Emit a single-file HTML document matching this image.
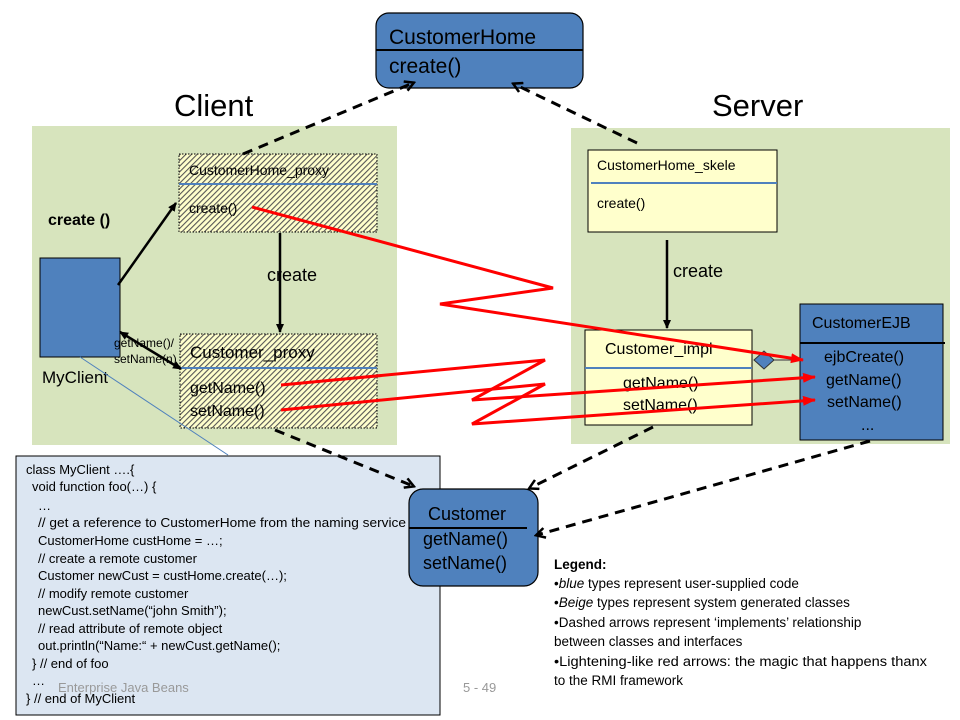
<!DOCTYPE html>
<html><head><meta charset="utf-8"><style>
html,body{margin:0;padding:0;background:#fff;}
svg{display:block;font-family:"Liberation Sans",Arial,sans-serif;}
</style></head><body>
<svg width="960" height="720" viewBox="0 0 960 720" xmlns="http://www.w3.org/2000/svg">
<defs>
<pattern id="h" patternUnits="userSpaceOnUse" width="4" height="4" patternTransform="rotate(45)">
<rect width="4" height="4" fill="#ffffcc"/><rect width="1.1" height="4" fill="#555"/>
</pattern>
<marker id="oa" markerWidth="12" markerHeight="12" refX="9" refY="6" orient="auto" markerUnits="userSpaceOnUse">
<path d="M1,1 L10,6 L1,11" fill="none" stroke="#000" stroke-width="2.5"/></marker>
<marker id="sa" markerWidth="10" markerHeight="10" refX="8" refY="5" orient="auto" markerUnits="userSpaceOnUse">
<path d="M0,1 L9,5 L0,9z" fill="#000"/></marker>
<marker id="sb" markerWidth="10" markerHeight="10" refX="1" refY="5" orient="auto" markerUnits="userSpaceOnUse">
<path d="M9,1 L0,5 L9,9z" fill="#000"/></marker>
<marker id="ra" markerWidth="14" markerHeight="12" refX="12" refY="6" orient="auto" markerUnits="userSpaceOnUse">
<path d="M0,1 L13,6 L0,11z" fill="#f00"/></marker>
</defs>

<rect x="32" y="126" width="365" height="319" fill="#d7e4bd"/>
<rect x="571" y="128" width="379" height="316" fill="#d7e4bd"/>
<text x="174" y="116" font-size="31">Client</text>
<text x="712" y="116" font-size="31">Server</text>

<rect x="376" y="13" width="207" height="75" rx="13" fill="#4f81bd" stroke="#000" stroke-width="1.2"/>
<line x1="376" y1="50" x2="583" y2="50" stroke="#000" stroke-width="2"/>
<text x="389" y="44" font-size="21">CustomerHome</text>
<text x="389" y="73" font-size="21">create()</text>

<rect x="179" y="154" width="198" height="78" fill="url(#h)" stroke="#000" stroke-dasharray="1.5,1.5"/>
<line x1="179" y1="184" x2="377" y2="184" stroke="#4f81bd" stroke-width="2"/>
<text x="189" y="175" font-size="14">CustomerHome_proxy</text>
<text x="189" y="213" font-size="14">create()</text>

<rect x="588" y="150" width="189" height="82" fill="#ffffcc" stroke="#000"/>
<line x1="591" y1="183" x2="777" y2="183" stroke="#4f81bd" stroke-width="2"/>
<text x="597" y="170" font-size="14">CustomerHome_skele</text>
<text x="597" y="208" font-size="14">create()</text>

<rect x="40" y="258" width="80" height="99" fill="#4f81bd" stroke="#000"/>
<text x="42" y="383" font-size="17">MyClient</text>
<text x="48" y="225" font-size="16" font-weight="bold">create ()</text>

<rect x="180" y="334" width="197" height="94" fill="url(#h)" stroke="#000" stroke-dasharray="1.5,1.5"/>
<line x1="180" y1="368" x2="377" y2="368" stroke="#4f81bd" stroke-width="2"/>
<text x="190" y="358" font-size="17">Customer_proxy</text>
<text x="190" y="393" font-size="16">getName()</text>
<text x="190" y="416" font-size="16">setName()</text>
<text x="114" y="347" font-size="12">getName()/</text>
<text x="114" y="363" font-size="12">setName(n)</text>
<text x="267" y="281" font-size="18">create</text>

<rect x="585" y="330" width="167" height="95" fill="#ffffcc" stroke="#000"/>
<line x1="585" y1="368" x2="752" y2="368" stroke="#4f81bd" stroke-width="2"/>
<text x="605" y="354" font-size="16">Customer_impl</text>
<text x="623" y="388" font-size="16">getName()</text>
<text x="623" y="410" font-size="16">setName()</text>
<text x="673" y="277" font-size="18">create</text>

<rect x="800" y="304" width="143" height="136" fill="#4f81bd" stroke="#000"/>
<line x1="800" y1="343" x2="945" y2="343" stroke="#000" stroke-width="2"/>
<text x="812" y="328" font-size="16">CustomerEJB</text>
<text x="824" y="362" font-size="16">ejbCreate()</text>
<text x="826" y="385" font-size="16">getName()</text>
<text x="827" y="407" font-size="16">setName()</text>
<text x="861" y="430" font-size="16">...</text>
<path d="M754,360 L764,351 L774,360 L764,369z" fill="#4f81bd" stroke="#333"/>
<line x1="774" y1="360" x2="800" y2="360" stroke="#555" stroke-width="1.2"/>

<line x1="118" y1="285" x2="176" y2="203" stroke="#000" stroke-width="2.5" marker-end="url(#sa)"/>
<line x1="280" y1="233" x2="280" y2="332" stroke="#000" stroke-width="2.5" marker-end="url(#sa)"/>
<line x1="667" y1="240" x2="667" y2="328" stroke="#000" stroke-width="2.5" marker-end="url(#sa)"/>
<line x1="120" y1="332" x2="181" y2="369" stroke="#000" stroke-width="2.5" marker-start="url(#sb)" marker-end="url(#sa)"/>

<line x1="80" y1="357" x2="228" y2="455" stroke="#4f81bd" stroke-width="1"/>

<g stroke="#f00" stroke-width="3" fill="none">
<polyline points="252,207 553,288 440,304 803,360" marker-end="url(#ra)"/>
<polyline points="281,385 545,360 472,400 815,377" marker-end="url(#ra)"/>
<polyline points="281,410 545,384 472,424 815,400" marker-end="url(#ra)"/>
</g>

<rect x="16" y="456" width="424" height="259" fill="#dce6f2" stroke="#000"/>
<g font-size="13" fill="#000">
<text x="26" y="474">class MyClient ….{</text>
<text x="32" y="491">void function foo(…) {</text>
<text x="38" y="510">…</text>
<text x="38" y="527" textLength="368" lengthAdjust="spacingAndGlyphs">// get a reference to CustomerHome from the naming service</text>
<text x="38" y="545">CustomerHome custHome = …;</text>
<text x="38" y="563">// create a remote customer</text>
<text x="38" y="580">Customer newCust = custHome.create(…);</text>
<text x="38" y="598">// modify remote customer</text>
<text x="38" y="615">newCust.setName(“john Smith”);</text>
<text x="38" y="633">// read attribute of remote object</text>
<text x="38" y="650">out.println(“Name:“ + newCust.getName();</text>
<text x="32" y="668">}   // end of  foo</text>
<text x="32" y="685">…</text>
<text x="26" y="703">}  // end of MyClient</text>
</g>
<text x="58" y="692" font-size="13" fill="#999">Enterprise Java Beans</text>
<text x="463" y="692" font-size="13" fill="#999">5 - 49</text>

<rect x="409" y="489" width="129" height="97" rx="14" fill="#4f81bd" stroke="#000" stroke-width="1.2"/>
<line x1="409" y1="528" x2="527" y2="528" stroke="#000" stroke-width="2"/>
<text x="428" y="520" font-size="18">Customer</text>
<text x="423" y="545" font-size="18">getName()</text>
<text x="423" y="569" font-size="18">setName()</text>

<g stroke="#000" stroke-width="3" stroke-dasharray="10,7" fill="none">
<line x1="243" y1="154" x2="413" y2="83" marker-end="url(#oa)"/>
<line x1="637" y1="143" x2="514" y2="84" marker-end="url(#oa)"/>
<line x1="275" y1="430" x2="413" y2="486" marker-end="url(#oa)"/>
<line x1="653" y1="427" x2="530" y2="488" marker-end="url(#oa)"/>
<line x1="870" y1="441" x2="537" y2="535" marker-end="url(#oa)"/>
</g>

<g font-size="13.5">
<text x="554" y="569" font-weight="bold">Legend:</text>
<text x="554" y="588">•<tspan font-style="italic">blue</tspan> types represent user-supplied code</text>
<text x="554" y="607">•<tspan font-style="italic">Beige</tspan> types represent system generated classes</text>
<text x="554" y="627">•Dashed arrows represent ‘implements’ relationship</text>
<text x="554" y="646">between classes and interfaces</text>
<text x="554" y="666" textLength="373" lengthAdjust="spacingAndGlyphs">•Lightening-like red arrows: the magic that happens thanx</text>
<text x="554" y="685">to the RMI framework</text>
</g>
</svg>
</body></html>
